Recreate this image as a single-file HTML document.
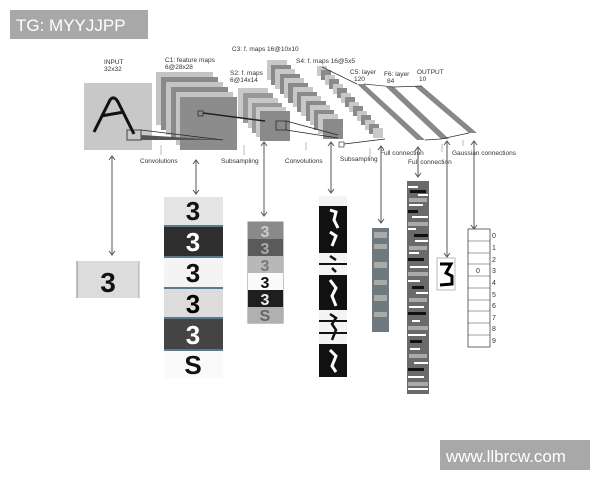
<!DOCTYPE html>
<html><head><meta charset="utf-8"><style>
html,body{margin:0;padding:0;background:#fff;}
svg{display:block;font-family:"Liberation Sans",sans-serif;}
</style></head><body>
<svg width="600" height="480" viewBox="0 0 600 480" xmlns="http://www.w3.org/2000/svg">
<rect x="0" y="0" width="600" height="480" fill="#fff"/>
<rect x="10" y="10" width="138" height="29" fill="#a8a8a8"/>
<text x="16" y="31" font-size="17" fill="#fff">TG: MYYJJPP</text>
<rect x="440" y="440" width="150" height="30" fill="#a8a8a8"/>
<text x="446" y="462" font-size="17" fill="#fff">www.llbrcw.com</text>

<g font-size="6.5" fill="#333">
<text x="104" y="64">INPUT</text><text x="104" y="71">32x32</text>
<text x="165" y="62">C1: feature maps</text><text x="165" y="69">6@28x28</text>
<text x="232" y="51">C3: f. maps 16@10x10</text>
<text x="296" y="63">S4: f. maps 16@5x5</text>
<text x="230" y="75">S2: f. maps</text><text x="230" y="82">6@14x14</text>
<text x="350" y="74">C5: layer</text><text x="354" y="81">120</text>
<text x="384" y="76">F6: layer</text><text x="387" y="83">84</text>
<text x="417" y="74">OUTPUT</text><text x="419" y="81">10</text>
<text x="140" y="163">Convolutions</text>
<text x="221" y="163">Subsampling</text>
<text x="285" y="163">Convolutions</text>
<text x="340" y="161">Subsampling</text>
<text x="380" y="155">Full connection</text>
<text x="408" y="164">Full connection</text>
<text x="452" y="155">Gaussian connections</text>
</g>
<rect x="84" y="83" width="68" height="67" fill="#c8c8c8"/>
<path d="M94 132 L110 100 Q114 95 118 102 L134 134 M101 116 L124 112" stroke="#111" stroke-width="3" fill="none"/>
<rect x="127" y="130" width="14" height="10" fill="none" stroke="#222" stroke-width="0.8"/>
<g>
<rect x="156" y="72" width="57" height="53" fill="#c4c4c4"/>
<rect x="161" y="77" width="57" height="53" fill="#8a8a8a"/>
<rect x="166" y="82" width="57" height="53" fill="#c4c4c4"/>
<rect x="171" y="87" width="57" height="53" fill="#8a8a8a"/>
<rect x="176" y="92" width="57" height="53" fill="#c4c4c4"/>
<rect x="180" y="97" width="57" height="53" fill="#8c8c8c"/>
</g>
<polygon points="141,135 141,140 223,140" fill="#555"/>
<line x1="141" y1="130" x2="223" y2="140" stroke="#222" stroke-width="0.8"/>
<g>
<rect x="238" y="88" width="30" height="30" fill="#c8c8c8"/>
<rect x="243" y="93" width="30" height="30" fill="#999"/>
<rect x="248" y="98" width="30" height="30" fill="#c8c8c8"/>
<rect x="252" y="103" width="30" height="30" fill="#999"/>
<rect x="256" y="107" width="30" height="30" fill="#c8c8c8"/>
<rect x="260" y="111" width="30" height="30" fill="#8a8a8a"/>
</g>
<rect x="198" y="111" width="5" height="5" fill="none" stroke="#222" stroke-width="0.7"/>
<line x1="203" y1="113" x2="265" y2="121" stroke="#222" stroke-width="1.5"/>
<g>
<rect x="267" y="60" width="20" height="20" fill="#c8c8c8"/>
<rect x="271" y="65" width="20" height="20" fill="#8a8a8a"/>
<rect x="275" y="69" width="20" height="20" fill="#c8c8c8"/>
<rect x="280" y="74" width="20" height="20" fill="#8a8a8a"/>
<rect x="284" y="78" width="20" height="20" fill="#c8c8c8"/>
<rect x="288" y="83" width="20" height="20" fill="#8a8a8a"/>
<rect x="293" y="87" width="20" height="20" fill="#c8c8c8"/>
<rect x="297" y="92" width="20" height="20" fill="#8a8a8a"/>
<rect x="301" y="96" width="20" height="20" fill="#c8c8c8"/>
<rect x="306" y="101" width="20" height="20" fill="#8a8a8a"/>
<rect x="310" y="105" width="20" height="20" fill="#c8c8c8"/>
<rect x="314" y="110" width="20" height="20" fill="#8a8a8a"/>
<rect x="318" y="114" width="20" height="20" fill="#c8c8c8"/>
<rect x="323" y="119" width="20" height="20" fill="#8a8a8a"/>
</g>
<rect x="276" y="121" width="10" height="9" fill="none" stroke="#222" stroke-width="0.7"/>
<line x1="286" y1="121" x2="338" y2="135" stroke="#222" stroke-width="0.8"/>
<line x1="286" y1="130" x2="338" y2="138" stroke="#222" stroke-width="0.8"/>
<g>
<rect x="317" y="66" width="10" height="10" fill="#c8c8c8"/>
<rect x="321" y="70" width="10" height="10" fill="#8a8a8a"/>
<rect x="325" y="75" width="10" height="10" fill="#c8c8c8"/>
<rect x="329" y="79" width="10" height="10" fill="#8a8a8a"/>
<rect x="333" y="84" width="10" height="10" fill="#c8c8c8"/>
<rect x="337" y="88" width="10" height="10" fill="#8a8a8a"/>
<rect x="341" y="93" width="10" height="10" fill="#c8c8c8"/>
<rect x="345" y="97" width="10" height="10" fill="#8a8a8a"/>
<rect x="349" y="102" width="10" height="10" fill="#c8c8c8"/>
<rect x="353" y="106" width="10" height="10" fill="#8a8a8a"/>
<rect x="357" y="111" width="10" height="10" fill="#c8c8c8"/>
<rect x="361" y="115" width="10" height="10" fill="#8a8a8a"/>
<rect x="365" y="120" width="10" height="10" fill="#c8c8c8"/>
<rect x="369" y="124" width="10" height="10" fill="#8a8a8a"/>
<rect x="373" y="128" width="10" height="10" fill="#c8c8c8"/>
</g>
<rect x="339" y="142" width="5" height="5" fill="none" stroke="#222" stroke-width="0.6"/>
<line x1="344" y1="144" x2="385" y2="139" stroke="#222" stroke-width="0.7"/>
<line x1="322" y1="67" x2="357" y2="84" stroke="#333" stroke-width="0.7"/>
<polygon points="357,84 364,84 425,140 417,140" fill="#888"/>
<polygon points="386,87 394,87 449,139 441,139" fill="#888"/>
<polygon points="414,86 422,86 477,133 469,133" fill="#888"/>
<polyline points="364,84 394,87 422,86" fill="none" stroke="#333" stroke-width="0.7"/>
<polyline points="425,140 441,139 469,133" fill="none" stroke="#333" stroke-width="0.7"/>
<g stroke="#bbb" stroke-width="1">
<line x1="161" y1="145" x2="161" y2="155"/><line x1="244" y1="145" x2="244" y2="155"/>
<line x1="306" y1="142" x2="306" y2="150"/><line x1="370" y1="148" x2="370" y2="158"/>
<line x1="442" y1="144" x2="442" y2="152"/><line x1="463" y1="140" x2="463" y2="146"/>
</g>
<g stroke="#555" stroke-width="1" fill="none">
<line x1="112" y1="157" x2="112" y2="254"/><path d="M109 160 L112 156 L115 160 M109 251 L112 255 L115 251"/>
<line x1="196" y1="161" x2="196" y2="193"/><path d="M193 164 L196 160 L199 164 M193 190 L196 194 L199 190"/>
<line x1="264" y1="143" x2="264" y2="215"/><path d="M261 146 L264 142 L267 146 M261 212 L264 216 L267 212"/>
<line x1="331" y1="143" x2="331" y2="192"/><path d="M328 146 L331 142 L334 146 M328 189 L331 193 L334 189"/>
<line x1="381" y1="147" x2="381" y2="222"/><path d="M378 150 L381 146 L384 150 M378 219 L381 223 L384 219"/>
<line x1="418" y1="148" x2="418" y2="176"/><path d="M415 151 L418 147 L421 151 M415 173 L418 177 L421 173"/>
<line x1="447" y1="142" x2="447" y2="256"/><path d="M444 145 L447 141 L450 145 M444 253 L447 257 L450 253"/>
<line x1="474" y1="142" x2="474" y2="228"/><path d="M471 145 L474 141 L477 145 M471 225 L474 229 L477 225"/>
</g>
<rect x="77" y="261" width="62" height="37" fill="#dcdcdc"/>
<line x1="77" y1="261" x2="77" y2="298" stroke="#888"/><line x1="139" y1="261" x2="139" y2="298" stroke="#aaa"/>
<text x="108" y="292" font-size="28" font-weight="bold" text-anchor="middle" fill="#111">3</text>
<g font-size="26" font-weight="bold" text-anchor="middle">
<rect x="164" y="197" width="59" height="28" fill="#e4e4e4"/><text x="193" y="220" fill="#111">3</text>
<rect x="164" y="225" width="59" height="2" fill="#5a7a90"/>
<rect x="164" y="227" width="59" height="29" fill="#2e2e2e"/><text x="193" y="251" fill="#fff">3</text>
<rect x="164" y="256" width="59" height="2" fill="#5a7a90"/>
<rect x="164" y="258" width="59" height="29" fill="#f4f4f4"/><text x="193" y="282" fill="#111">3</text>
<rect x="164" y="287" width="59" height="2" fill="#5a7a90"/>
<rect x="164" y="289" width="59" height="28" fill="#dcdcdc"/><text x="193" y="313" fill="#000">3</text>
<rect x="164" y="317" width="59" height="2" fill="#5a7a90"/>
<rect x="164" y="319" width="59" height="30" fill="#444"/><text x="193" y="344" fill="#fff">3</text>
<rect x="164" y="349" width="59" height="2" fill="#5a7a90"/>
<rect x="164" y="351" width="59" height="27" fill="#fafafa"/><text x="193" y="374" fill="#111">S</text>
</g>
<g font-size="16" font-weight="bold" text-anchor="middle">
<rect x="248" y="222" width="35" height="101" fill="none" stroke="#888"/>
<rect x="248" y="222" width="35" height="17" fill="#8a8a8a"/><text x="265" y="237" fill="#ccc">3</text>
<rect x="248" y="239" width="35" height="17" fill="#5a5a5a"/><text x="265" y="254" fill="#aaa">3</text>
<rect x="248" y="256" width="35" height="17" fill="#b8b8b8"/><text x="265" y="271" fill="#777">3</text>
<rect x="248" y="273" width="35" height="17" fill="#fafafa"/><text x="265" y="288" fill="#111">3</text>
<rect x="248" y="290" width="35" height="17" fill="#1e1e1e"/><text x="265" y="305" fill="#eee">3</text>
<rect x="248" y="307" width="35" height="16" fill="#b0b0b0"/><text x="265" y="321" fill="#666">S</text>
</g>
<g>
<rect x="319" y="196" width="28" height="181" fill="#111"/>
<rect x="319" y="196" width="28" height="10" fill="#f4f4f4"/>
<rect x="319" y="253" width="28" height="10" fill="#f4f4f4"/>
<rect x="319" y="265" width="28" height="10" fill="#f4f4f4"/>
<rect x="319" y="310" width="28" height="10" fill="#f4f4f4"/>
<rect x="319" y="322" width="28" height="10" fill="#f4f4f4"/>
<rect x="319" y="334" width="28" height="10" fill="#f4f4f4"/>
<g stroke="#fff" stroke-width="3" fill="none">
<path d="M330 210 L336 212 L334 220 L338 228"/><path d="M330 232 L336 236 L332 246"/>
<path d="M330 280 L336 288 L332 296 L336 306"/><path d="M330 350 L336 356 L332 366 L336 372"/>
</g>
<g stroke="#111" stroke-width="2.5" fill="none">
<path d="M330 256 L336 260 M332 268 L336 272"/><path d="M330 314 L336 318 L332 324 L336 330 L332 340"/>
</g>
</g>
<rect x="372" y="228" width="17" height="104" fill="#6f7a80"/>
<g fill="#aaa">
<rect x="374" y="232" width="13" height="6"/><rect x="374" y="244" width="13" height="5"/>
<rect x="374" y="262" width="13" height="6"/><rect x="374" y="280" width="13" height="5"/>
<rect x="374" y="295" width="13" height="6"/><rect x="374" y="312" width="13" height="5"/>
</g>
<rect x="407" y="181" width="22" height="213" fill="#6a6a6a"/>
<g fill="#aaa">
<rect x="409" y="198" width="18" height="4"/><rect x="408" y="222" width="20" height="4"/>
<rect x="409" y="246" width="18" height="4"/><rect x="408" y="272" width="20" height="4"/>
<rect x="409" y="298" width="18" height="4"/><rect x="408" y="326" width="20" height="4"/>
<rect x="409" y="354" width="18" height="4"/><rect x="408" y="382" width="20" height="4"/>
</g>
<g fill="#fff">
<rect x="408" y="186" width="10" height="2"/><rect x="418" y="194" width="10" height="2"/>
<rect x="409" y="204" width="14" height="2"/><rect x="412" y="216" width="16" height="2"/>
<rect x="408" y="228" width="8" height="2"/><rect x="415" y="240" width="13" height="2"/>
<rect x="409" y="252" width="10" height="2"/><rect x="410" y="266" width="18" height="2"/>
<rect x="408" y="280" width="12" height="2"/><rect x="416" y="292" width="12" height="2"/>
<rect x="409" y="306" width="15" height="2"/><rect x="412" y="320" width="8" height="2"/>
<rect x="408" y="334" width="18" height="2"/><rect x="410" y="348" width="10" height="2"/>
<rect x="414" y="362" width="14" height="2"/><rect x="408" y="376" width="16" height="2"/>
<rect x="408" y="388" width="20" height="2"/>
</g>
<g fill="#111">
<rect x="410" y="190" width="16" height="3"/><rect x="408" y="210" width="10" height="3"/>
<rect x="414" y="234" width="14" height="3"/><rect x="408" y="258" width="16" height="3"/>
<rect x="412" y="286" width="12" height="3"/><rect x="408" y="312" width="18" height="3"/>
<rect x="410" y="340" width="12" height="3"/><rect x="408" y="368" width="16" height="3"/>
</g>
<rect x="437" y="258" width="18" height="32" fill="#fff" stroke="#aaa" stroke-width="0.8"/>
<path d="M440 264 L451 264 L446 273 L452 276 L452 284 L440 285" stroke="#000" stroke-width="3" fill="none"/>
<rect x="468" y="229" width="22" height="118" stroke="#444" stroke-width="0.8" fill="#fff"/>
<g stroke="#444" stroke-width="0.6">
<line x1="468" y1="241" x2="490" y2="241"/><line x1="468" y1="253" x2="490" y2="253"/>
<line x1="468" y1="264" x2="490" y2="264"/><line x1="468" y1="276" x2="490" y2="276"/>
<line x1="468" y1="288" x2="490" y2="288"/><line x1="468" y1="300" x2="490" y2="300"/>
<line x1="468" y1="311" x2="490" y2="311"/><line x1="468" y1="323" x2="490" y2="323"/>
<line x1="468" y1="335" x2="490" y2="335"/>
</g>
<text x="476" y="273" font-size="7" fill="#333">0</text>
<g font-size="7" fill="#333">
<text x="492" y="238">0</text><text x="492" y="250">1</text><text x="492" y="262">2</text>
<text x="492" y="273">3</text><text x="492" y="285">4</text><text x="492" y="297">5</text>
<text x="492" y="308">6</text><text x="492" y="320">7</text><text x="492" y="331">8</text>
<text x="492" y="343">9</text>
</g>
</svg>
</body></html>
